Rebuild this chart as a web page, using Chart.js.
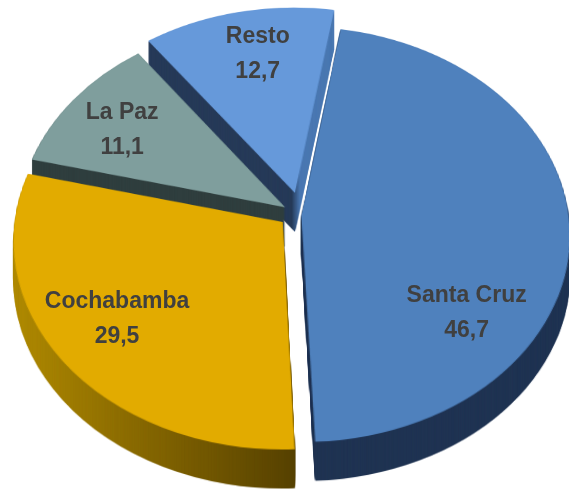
<!DOCTYPE html>
<html><head><meta charset="utf-8">
<style>html,body{margin:0;padding:0;background:#fff;overflow:hidden}canvas{display:block}</style>
<script src="https://cdn.jsdelivr.net/npm/chart.js@4.4.0/dist/chart.umd.min.js"></script>
</head><body>
<canvas id="c" width="569" height="489"></canvas>
<script>
// ---- data ----
const categories = ['Santa Cruz', 'Cochabamba', 'La Paz', 'Resto'];
const values = [46.7, 29.5, 11.1, 12.7];

// ---- style ----
const topColors = ['#4f81bd', '#e2ab00', '#7f9e9d', '#6699da'];
// perspective view of the pie plane: apex (cx,cy), radii A,B, perspective c, depth
const VIEW = {cx: 284, cy: 222, A: 268, B: 207, c: 0.09, depth: 39};
// explode offsets in plane units (fraction of radius)
const explodeUV = [[0.065, -0.03], [-0.005, 0], [0.004, -0.072], [0.041, -0.143]];
const labelShift = [34, 2, -2, 2];
const labelR = 0.745;

const fmt = v => v.toFixed(1).replace('.', ',');

function project(u, v) {
  const d = 1 - VIEW.c * v;
  return [VIEW.cx + VIEW.A * u / d, VIEW.cy + VIEW.B * v / d];
}

const pie3d = {
  id: 'pie3d',
  beforeDatasetsDraw(chart) {
    const ctx = chart.ctx;
    const W = chart.width, HC = chart.height;
    const arcs = chart.getDatasetMeta(0).data;
    const R0 = arcs[0].outerRadius, x0 = arcs[0].x, y0 = arcs[0].y;
    const S = 640, H = S / 2, Rp = 240;

    const mk = (w, h) => { const c = document.createElement('canvas'); c.width = w; c.height = h; return c; };

    const sliceCanvas = (el, i, color) => {
      const cv = mk(S, S);
      const g = cv.getContext('2d');
      g.translate(H + explodeUV[i][0] * Rp, H + explodeUV[i][1] * Rp);
      g.scale(Rp / R0, Rp / R0);
      g.translate(-x0, -y0);
      const o = el.options;
      el.options = Object.assign({}, o, {backgroundColor: color, borderWidth: 0, offset: 0});
      el.draw(g);
      el.options = o;
      return cv;
    };

    const warp = (src) => {
      const out = mk(W, HC);
      const o = out.getContext('2d');
      o.imageSmoothingEnabled = true;
      for (let Y = 0; Y < HC; Y++) {
        const t = Y + 0.5 - VIEW.cy;
        const v = t / (VIEW.B + VIEW.c * t);
        if (v < -1.3 || v > 1.3) continue;
        const s = 1 / (1 - VIEW.c * v);
        const sy = H + v * Rp - 0.5;
        const k = VIEW.A / Rp * s;
        o.drawImage(src, 0, sy, S, 1, VIEW.cx - H * k, Y, S * k, 1);
      }
      return out;
    };

    const sideFill = (i, g) => {
      if (i === 1) {
        const gr = g.createLinearGradient(15, 0, 295, 0);
        gr.addColorStop(0, '#b08a00');
        gr.addColorStop(0.5, '#826400');
        gr.addColorStop(1, '#564100');
        return gr;
      }
      if (i === 3) {
        const gr = g.createLinearGradient(140, 0, 345, 0);
        gr.addColorStop(0, '#263a58');
        gr.addColorStop(0.74, '#263a58');
        gr.addColorStop(0.78, '#4a78b2');
        gr.addColorStop(1, '#4a78b2');
        return gr;
      }
      return ['#1f3352', null, '#2f3e3e'][i];
    };

    const tops = arcs.map((el, i) => warp(sliceCanvas(el, i, topColors[i])));
    const sides = tops.map((tc, i) => {
      const c = mk(W, HC);
      const g = c.getContext('2d');
      g.drawImage(tc, 0, 0);
      g.globalCompositeOperation = 'source-in';
      g.fillStyle = sideFill(i, g);
      g.fillRect(0, 0, W, HC);
      return c;
    });

    for (let d = VIEW.depth; d >= 1; d--) sides.forEach(c => ctx.drawImage(c, 0, d));
    tops.forEach(c => ctx.drawImage(c, 0, 0));

    // labels
    ctx.save();
    ctx.font = 'bold 23px "Liberation Sans", Arial, sans-serif';
    ctx.fillStyle = '#404040';
    ctx.textAlign = 'center';
    ctx.textBaseline = 'middle';
    arcs.forEach((el, i) => {
      const a = (el.startAngle + el.endAngle) / 2 + labelShift[i] * Math.PI / 180;
      const u = explodeUV[i][0] + Math.cos(a) * labelR;
      const v = explodeUV[i][1] + Math.sin(a) * labelR;
      const [px, py] = project(u, v);
      ctx.fillText(categories[i], px, py - 17.5);
      ctx.fillText(fmt(values[i]), px, py + 17.5);
    });
    ctx.restore();
    return false;
  }
};

new Chart(document.getElementById('c'), {
  type: 'pie',
  data: {
    labels: categories,
    datasets: [{data: values, backgroundColor: topColors, borderWidth: 0}]
  },
  options: {
    responsive: false,
    animation: false,
    events: [],
    rotation: 9.5,
    layout: {padding: 0},
    plugins: {legend: {display: false}, tooltip: {enabled: false}}
  },
  plugins: [pie3d]
});
</script>
</body></html>
